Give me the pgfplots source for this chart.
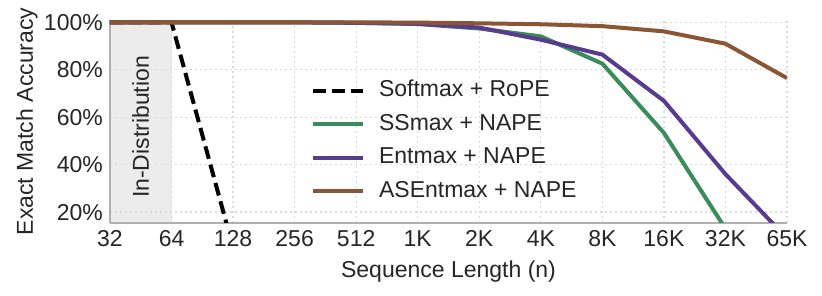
\documentclass[border=0pt]{standalone}
\usepackage{fontspec}
\setmainfont{Liberation Sans}
\usepackage{pgfplots}
\pgfplotsset{compat=1.18}
\definecolor{cgreen}{RGB}{58,140,90}
\definecolor{cpurple}{RGB}{88,58,142}
\definecolor{cbrown}{RGB}{140,86,52}
\definecolor{shade}{RGB}{236,236,236}
\definecolor{gridc}{RGB}{218,218,218}
\definecolor{axc}{RGB}{176,176,176}
\definecolor{txt}{RGB}{38,38,38}
\begin{document}
\begin{tikzpicture}[font=\fontsize{23}{27.6}\selectfont, text=txt]
\begin{axis}[
  set layers=standard,
  scale only axis,
  width=677pt, height=203pt,
  xmin=0, xmax=11, ymin=15.4, ymax=101,
  axis x line*=bottom, axis y line*=left,
  axis line style={axc, line width=1.8pt},
  major tick length=0pt,
  xtick={0,1,2,3,4,5,6,7,8,9,10,11},
  xticklabels={32,64,128,256,512,1K,2K,4K,8K,16K,32K,65K},
  ytick={20,40,60,80,100},
  yticklabels={20\%,40\%,60\%,80\%,100\%},
  xticklabel style={anchor=north, inner sep=0pt, yshift=-7pt},
  yticklabel style={anchor=east, inner sep=0pt, xshift=-7pt},
  grid=major,
  major grid style={gridc, line width=1.3pt, dash pattern=on 2pt off 3pt},
  xlabel={Sequence Length (n)},
  ylabel={Exact Match Accuracy},
  xlabel style={at={(axis description cs:0.5,-0.187)}, anchor=north, inner sep=0pt},
  ylabel style={at={(axis description cs:-0.1064,0.5)}, anchor=south, inner sep=0pt},
  legend cell align=left,
  legend style={at={(axis description cs:0.2970,0.705)}, anchor=north west,
    draw=none, fill=none, inner sep=0pt, outer sep=0pt,
    row sep=11.4pt, column sep=14pt,
    nodes={inner sep=0pt, text height=17pt, text depth=5pt}},
  legend image code/.code={\draw[#1] (0pt,0pt) -- (50pt,0pt);},
]
\addplot[fill=shade, draw=none, on layer=axis background, forget plot]
  coordinates {(0,15.4) (0,101) (1,101) (1,15.4)} -- cycle;
\coordinate (A) at (rel axis cs:0,0);

\addplot[black, line width=4pt, dash pattern=on 13pt off 6pt]
  coordinates {(0,100) (1,100) (2,5) (3,0) (4,0) (5,0) (6,0) (7,0) (8,0) (9,0) (10,0) (11,0)};
\addlegendentry{Softmax + RoPE}
\addplot[cgreen, line width=4pt]
  coordinates {(0,100) (1,100) (2,100) (3,100) (4,99.8) (5,99.3) (6,97.4) (7,94.1) (8,82.6) (9,53.4) (10,13) (11,5)};
\addlegendentry{SSmax + NAPE}
\addplot[cpurple, line width=4pt]
  coordinates {(0,100) (1,100) (2,100) (3,100) (4,99.8) (5,99.4) (6,97.8) (7,92.7) (8,86.4) (9,66.9) (10,36) (11,9)};
\addlegendentry{Entmax + NAPE}
\addplot[cbrown, line width=4pt]
  coordinates {(0,100) (1,100) (2,100) (3,100) (4,100) (5,99.9) (6,99.6) (7,99.2) (8,98.4) (9,96.2) (10,91) (11,76.5)};
\addlegendentry{ASEntmax + NAPE}

\node[rotate=90, anchor=center, inner sep=0pt] at (axis cs:0.5,55.9) {In-Distribution};
\end{axis}
\pgfresetboundingbox
\path ([shift={(-110pt,-73pt)}]A) rectangle ([shift={(712pt,223pt)}]A);
\end{tikzpicture}
\end{document}
